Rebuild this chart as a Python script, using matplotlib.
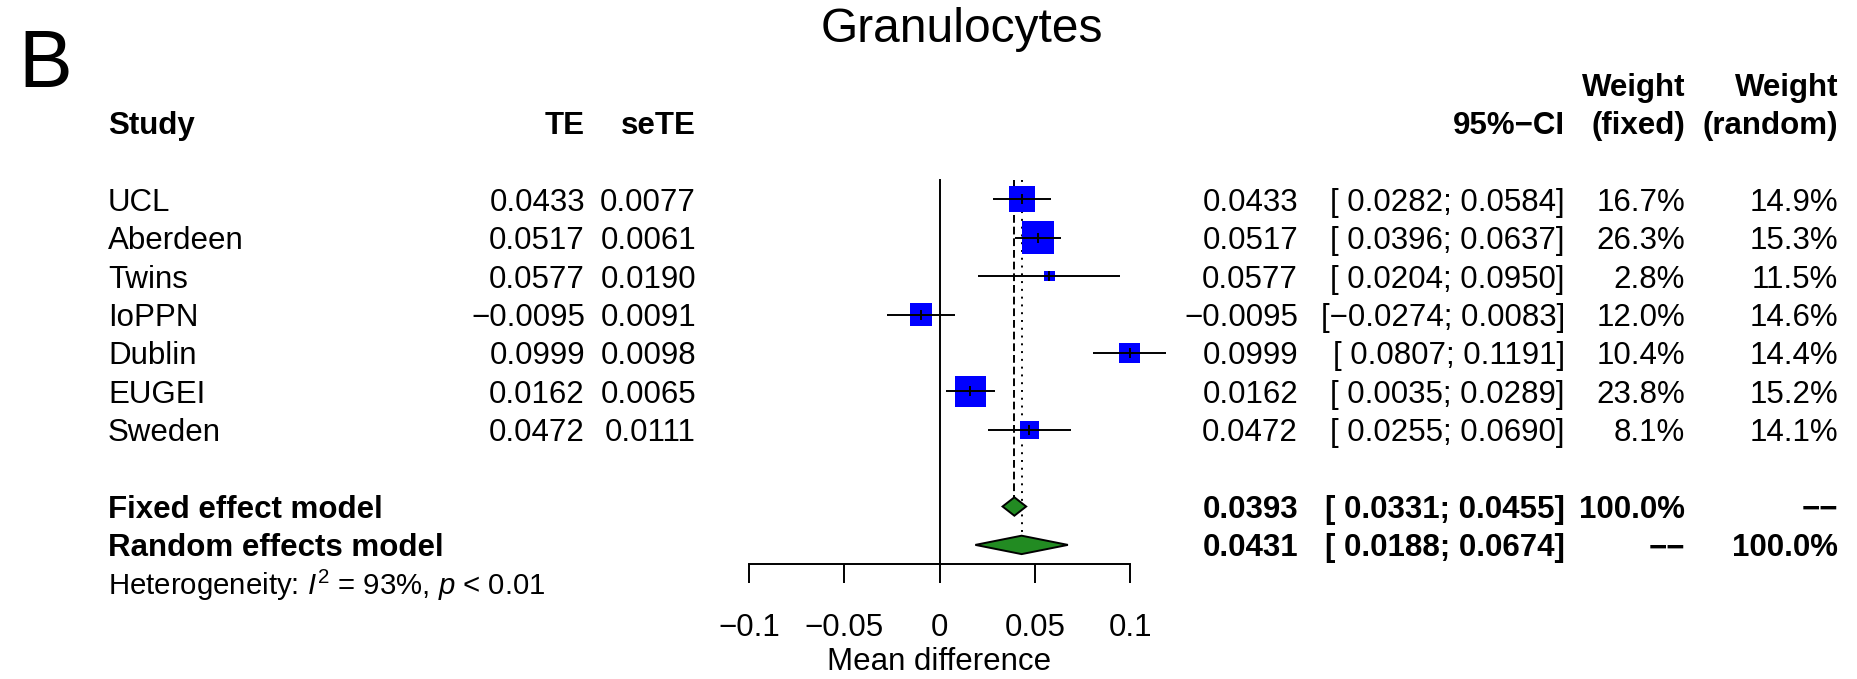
import numpy as np
import matplotlib.pyplot as plt
from matplotlib.transforms import blended_transform_factory

plt.rcParams['font.family'] = ['Liberation Sans', 'DejaVu Sans']
plt.rcParams['mathtext.fontset'] = 'custom'
plt.rcParams['mathtext.rm'] = 'Liberation Sans'
plt.rcParams['mathtext.it'] = 'Liberation Sans:italic'

# data
studies = ['UCL', 'Aberdeen', 'Twins', 'IoPPN', 'Dublin', 'EUGEI', 'Sweden']
te = [0.0433, 0.0517, 0.0577, -0.0095, 0.0999, 0.0162, 0.0472]
sete = [0.0077, 0.0061, 0.0190, 0.0091, 0.0098, 0.0065, 0.0111]
ci_lo = [0.0282, 0.0396, 0.0204, -0.0274, 0.0807, 0.0035, 0.0255]
ci_hi = [0.0584, 0.0637, 0.0950, 0.0083, 0.1191, 0.0289, 0.0690]
w_fixed = [16.7, 26.3, 2.8, 12.0, 10.4, 23.8, 8.1]
w_random = [14.9, 15.3, 11.5, 14.6, 14.4, 15.2, 14.1]

fixed_est, fixed_lo, fixed_hi = 0.0393, 0.0331, 0.0455
random_est, random_lo, random_hi = 0.0431, 0.0188, 0.0674
i2, pval = '93%', '< 0.01'
xticks = [-0.1, -0.05, 0, 0.05, 0.1]


def fmt(v, signed_space=False):
    s = f'{v:.4f}'.replace('-', '\u2212')
    if signed_space and v >= 0:
        s = ' ' + s
    return s


W, H = 1857, 679
fig = plt.figure(figsize=(W / 100, H / 100), dpi=100)
ax = fig.add_axes([749 / W, 0, 381 / W, 1])
ax.set_xlim(-0.1, 0.1)
row0, rowh = 199.3, 38.4
ax.set_ylim((H - row0) / rowh, -row0 / rowh)

axis_row = (564.3 - row0) / rowh
for s in ['left', 'right', 'top']:
    ax.spines[s].set_visible(False)
ax.spines['bottom'].set_position(('data', axis_row))
ax.spines['bottom'].set_bounds(-0.1, 0.1)
ax.spines['bottom'].set_linewidth(1.4)
ax.set_xticks(xticks)
ax.set_xticklabels([('%g' % t).replace('-', '\u2212') for t in xticks])
ax.tick_params(axis='x', length=13.7, width=1.4, pad=21.5, labelsize=22.5)
ax.set_yticks([])
ax.patch.set_alpha(0)

rows = np.arange(len(studies))
n = len(studies)
r_fixed, r_random = n + 1, n + 2

# reference lines
ax.plot([0, 0], [-0.5, axis_row], color='black', lw=1.4)
ax.plot([fixed_est] * 2, [-0.5, r_fixed - 0.24], color='black', lw=1.4, dashes=(4, 2))
ax.plot([random_est] * 2, [-0.5, r_random - 0.24], color='black', lw=1.4, dashes=(1, 3))

# study squares and CIs
sizes = (6.4 * np.sqrt(w_fixed) * 0.72) ** 2
ax.scatter(te, rows, marker='s', s=sizes, color='#0000FF', zorder=2, linewidths=0, clip_on=False)
ax.hlines(rows, ci_lo, ci_hi, color='black', lw=1.4, zorder=3, clip_on=False)
ax.plot(te, rows, ls='none', marker='|', ms=7.2, mew=1.4, color='black', zorder=4, clip_on=False)

# diamonds
dh = 0.24
for est, lo, hi, r in [(fixed_est, fixed_lo, fixed_hi, r_fixed),
                       (random_est, random_lo, random_hi, r_random)]:
    ax.fill([lo, est, hi, est], [r, r - dh, r, r + dh], facecolor='#228B22',
            edgecolor='black', lw=1.4, zorder=3, clip_on=False)

ax.text(0, (662 - row0) / rowh, 'Mean difference', ha='center', va='center', fontsize=22.5)

# text columns
tr = blended_transform_factory(fig.transFigure, ax.transData)
fs = 22.5
bo = 0.30  # baseline offset in rows


def put(xpx, row, s, ha='left', bold=False, size=fs):
    ax.text(xpx / W, row + bo, s, transform=tr, ha=ha, va='baseline', fontsize=size,
            fontweight='bold' if bold else 'normal', clip_on=False)


x_study, x_te, x_sete = 108, 585, 696
x_est, x_ci, x_wf, x_wr = 1298, 1565, 1685, 1838
dash2 = '\u2212\u2212'

put(x_study, -2, 'Study', bold=True)
put(x_te, -2, 'TE', ha='right', bold=True)
put(x_sete, -2, 'seTE', ha='right', bold=True)
put(x_ci, -2, '95%\u2212CI', ha='right', bold=True)
put(x_wf, -3, 'Weight', ha='right', bold=True)
put(x_wf, -2, '(fixed)', ha='right', bold=True)
put(x_wr, -3, 'Weight', ha='right', bold=True)
put(x_wr, -2, '(random)', ha='right', bold=True)

for i in range(n):
    put(x_study, i, studies[i])
    put(x_te, i, fmt(te[i]), ha='right')
    put(x_sete, i, fmt(sete[i]), ha='right')
    put(x_est, i, fmt(te[i]), ha='right')
    put(x_ci, i, '[' + fmt(ci_lo[i], True) + '; ' + fmt(ci_hi[i]) + ']', ha='right')
    put(x_wf, i, f'{w_fixed[i]:.1f}%', ha='right')
    put(x_wr, i, f'{w_random[i]:.1f}%', ha='right')

put(x_study, r_fixed, 'Fixed effect model', bold=True)
put(x_est, r_fixed, fmt(fixed_est), ha='right', bold=True)
put(x_ci, r_fixed, '[' + fmt(fixed_lo, True) + '; ' + fmt(fixed_hi) + ']', ha='right', bold=True)
put(x_wf, r_fixed, '100.0%', ha='right', bold=True)
put(x_wr, r_fixed, dash2, ha='right', bold=True)

put(x_study, r_random, 'Random effects model', bold=True)
put(x_est, r_random, fmt(random_est), ha='right', bold=True)
put(x_ci, r_random, '[' + fmt(random_lo, True) + '; ' + fmt(random_hi) + ']', ha='right', bold=True)
put(x_wf, r_random, dash2, ha='right', bold=True)
put(x_wr, r_random, '100.0%', ha='right', bold=True)

put(x_study, r_random + 1, 'Heterogeneity: $\\mathit{I}^2$ = ' + i2 + ', $\\mathit{p}$ ' + pval,
    size=21.2)

fig.text(962 / W, 1 - 42 / H, 'Granulocytes', ha='center', va='baseline', fontsize=34.5)
fig.text(18 / W, 1 - 86.7 / H, 'B', ha='left', va='baseline', fontsize=58)

fig.savefig('out.png', dpi=100)
